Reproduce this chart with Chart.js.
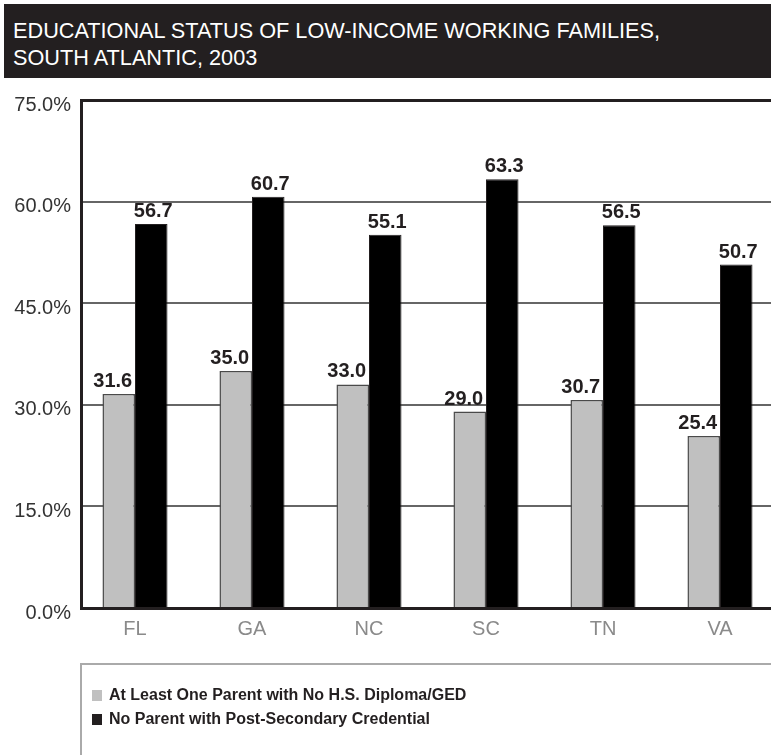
<!DOCTYPE html>
<html>
<head>
<meta charset="utf-8">
<script src="https://cdn.jsdelivr.net/npm/chart.js@4.4.0/dist/chart.umd.min.js"></script>
<style>
  html, body { margin: 0; padding: 0; background: #fff; }
  #wrap { position: relative; width: 771px; height: 755px; overflow: hidden;
          font-family: "Liberation Sans", Arial, Helvetica, sans-serif; }
  #head { position: absolute; left: 4px; top: 4px; width: 767px; height: 74px;
          background: #231f20; color: #fff; font-size: 21.7px; line-height: 27px;
          box-sizing: border-box; padding: 13px 0 0 9px; }
  #chart { position: absolute; left: 0; top: 0; }
  #legend { position: absolute; left: 80px; top: 663px; width: 740px; height: 140px;
            border: 2px solid #aaaaaa; box-sizing: border-box; padding: 18px 0 0 10px; }
  .item { display: flex; align-items: center; height: 24px; font-weight: bold;
          font-size: 16px; color: #231f20; }
  .sw { width: 10px; height: 11px; margin-right: 7px; flex: none; }
</style>
</head>
<body>
<div id="wrap">
  <div id="head">EDUCATIONAL STATUS OF LOW-INCOME WORKING FAMILIES,<br>SOUTH ATLANTIC, 2003</div>
  <canvas id="chart" width="771" height="755"></canvas>
  <div id="legend"></div>
</div>
<script>
// States along the x axis
const states = ['FL', 'GA', 'NC', 'SC', 'TN', 'VA'];
// Share of low-income working families (%)
const noHsDiploma = [31.6, 35.0, 33.0, 29.0, 30.7, 25.4];
const noPostSecondary = [56.7, 60.7, 55.1, 63.3, 56.5, 50.7];
// Value axis ticks
const yTicks = [0, 15, 30, 45, 60, 75];

const seriesNames = [
  'At Least One Parent with No H.S. Diploma/GED',
  'No Parent with Post-Secondary Credential'
];

const FONT = '"Liberation Sans", Arial, Helvetica, sans-serif';

// Writes the value above every bar
const valueLabels = {
  id: 'valueLabels',
  afterDatasetsDraw(chart) {
    const { ctx } = chart;
    ctx.save();
    ctx.font = 'bold 20px ' + FONT;
    ctx.fillStyle = '#231f20';
    ctx.textAlign = 'center';
    ctx.textBaseline = 'alphabetic';
    chart.data.datasets.forEach((ds, di) => {
      chart.getDatasetMeta(di).data.forEach((bar, i) => {
        ctx.fillText(ds.data[i].y.toFixed(1), bar.x + ds.labelShift, bar.y - 7);
      });
    });
    ctx.restore();
  }
};

const toPoints = vals => vals.map((v, i) => ({ x: i, y: v }));

const chart = new Chart(document.getElementById('chart'), {
  type: 'bar',
  data: {
    datasets: [
      { label: seriesNames[0], data: toPoints(noHsDiploma),
        backgroundColor: '#c0c0c0', borderColor: '#4a4a4a', borderWidth: 1.5,
        labelShift: -6 },
      { label: seriesNames[1], data: toPoints(noPostSecondary),
        backgroundColor: '#000000', borderColor: '#231f20', borderWidth: 1,
        labelShift: 2 }
    ]
  },
  options: {
    responsive: false,
    animation: false,
    devicePixelRatio: 1,
    layout: { padding: { top: 100, right: 0, bottom: 107, left: 0 } },
    datasets: { bar: { categoryPercentage: 0.556, barPercentage: 1 } },
    plugins: { legend: { display: false }, title: { display: false }, tooltip: { enabled: false } },
    scales: {
      x: {
        type: 'linear',
        min: -0.4615,
        max: 5.436,
        offset: false,
        afterBuildTicks: s => { s.ticks = states.map((_, i) => ({ value: i })); },
        afterFit: s => { s.height = 40; },
        grid: { display: false, drawTicks: false },
        border: { display: true, color: '#231f20', width: 3 },
        ticks: {
          callback: v => states[v],
          color: '#8a8a8a',
          font: { family: FONT, size: 20 },
          padding: 9,
          maxRotation: 0,
          autoSkip: false
        }
      },
      y: {
        min: 0,
        max: 75,
        afterBuildTicks: s => { s.ticks = yTicks.map(v => ({ value: v })); },
        afterFit: s => { s.width = 81; },
        grid: {
          drawTicks: false,
          color: c => c.tick && c.tick.value === 75 ? '#231f20' : '#666666',
          lineWidth: c => c.tick && c.tick.value === 75 ? 3 : 2
        },
        border: { display: true, color: '#231f20', width: 3 },
        ticks: {
          callback: v => v.toFixed(1) + '%',
          color: '#333333',
          font: { family: FONT, size: 20 },
          padding: 10,
          labelOffset: 5
        }
      }
    }
  },
  plugins: [valueLabels]
});

// Legend built from the chart's own datasets
const legend = document.getElementById('legend');
chart.data.datasets.forEach(ds => {
  const row = document.createElement('div');
  row.className = 'item';
  const sw = document.createElement('span');
  sw.className = 'sw';
  sw.style.background = ds.backgroundColor === '#000000' ? '#231f20' : ds.backgroundColor;
  const txt = document.createElement('span');
  txt.textContent = ds.label;
  row.appendChild(sw);
  row.appendChild(txt);
  legend.appendChild(row);
});
</script>
</body>
</html>
